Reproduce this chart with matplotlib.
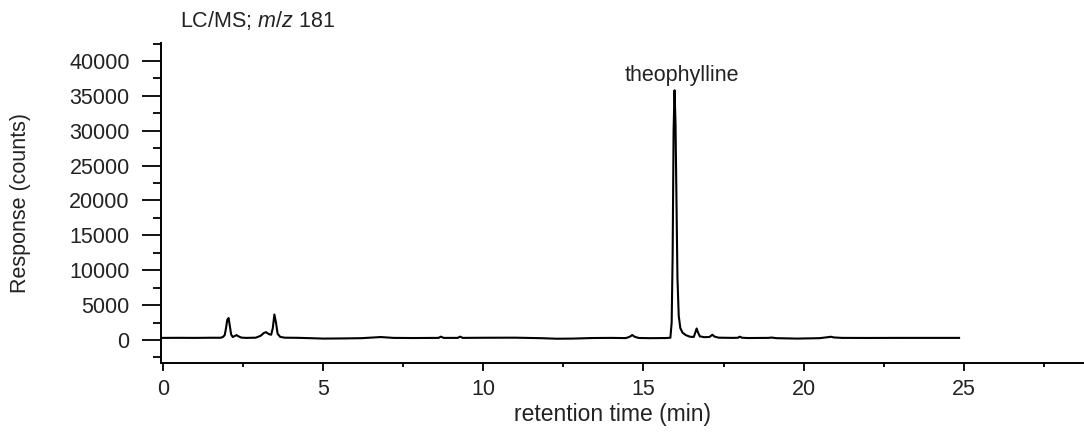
import matplotlib
matplotlib.use("Agg")
import matplotlib.pyplot as plt
from matplotlib.ticker import MultipleLocator

# ---- data ----
time_min = [
    0.00, 0.50, 1.00, 1.50, 1.80, 1.87, 1.93,
    1.97, 2.01, 2.05, 2.09, 2.13, 2.18, 2.24, 2.30, 2.36, 2.45,
    2.60, 2.90, 3.05, 3.15, 3.22, 3.30, 3.38, 3.43, 3.48, 3.53, 3.58, 3.66, 3.80,
    4.20, 4.60, 5.00, 5.60, 6.20, 6.80, 7.20, 7.80, 8.60, 8.68, 8.76, 9.20,
    9.28, 9.36, 10.00, 11.00, 11.80, 12.30, 12.80, 13.40, 14.00, 14.45, 14.58,
    14.65, 14.72, 14.85, 15.20, 15.70, 15.84, 15.88, 15.91, 15.94, 15.97,
    16.00, 16.03, 16.06, 16.10, 16.15, 16.22, 16.32, 16.45, 16.57, 16.62,
    16.66, 16.70, 16.76, 16.90, 17.06, 17.15, 17.22, 17.35, 17.80, 17.95,
    18.00, 18.08, 18.25, 18.90, 19.00, 19.15, 19.80, 20.50, 20.75, 20.85,
    20.95, 21.20, 22.00, 23.00, 24.00, 24.85,
]
response = [
    300, 310, 300, 320, 320, 420, 700,
    1700, 2900, 3150, 2000, 800, 420, 560, 700, 520, 340,
    300, 330, 600, 1000, 1120, 860, 750, 1700, 3650, 2500, 900, 450, 330,
    310, 260, 200, 220, 260, 420, 300, 280, 300, 480, 300, 300,
    480, 300, 320, 330, 260, 180, 200, 280, 300, 270, 480,
    720, 470, 290, 260, 280, 320, 2500, 12000, 30000, 35800,
    31000, 20000, 9000, 3500, 1700, 1050, 700, 470, 430, 1100,
    1650, 1100, 520, 400, 430, 750, 480, 330, 300, 320,
    470, 320, 280, 300, 350, 260, 200, 260, 400, 460,
    360, 300, 290, 300, 300, 300,
]

peak_label = "theophylline"
peak_time = 15.97
peak_label_y = 36470

x_ticks = [0, 5, 10, 15, 20, 25]
y_ticks = [0, 5000, 10000, 15000, 20000, 25000, 30000, 35000, 40000]

# ---- style ----
plt.rcParams["font.family"] = ["Liberation Sans", "DejaVu Sans"]
plt.rcParams["mathtext.fontset"] = "custom"
plt.rcParams["mathtext.rm"] = "Liberation Sans"
plt.rcParams["mathtext.it"] = "Liberation Sans:italic"
text_color = "#222222"
fs = 15.5

fig = plt.figure(figsize=(10.84, 4.34), dpi=100)
ax = fig.add_axes([0.1485, 0.1636, 0.8515, 0.7373])

ax.plot(time_min, response, color="black", lw=1.5, solid_joinstyle="round")

ax.set_xlim(-0.06, 28.75)
ax.set_ylim(-3300, 42580)

ax.set_xticks(x_ticks)
ax.set_yticks(y_ticks)
ax.xaxis.set_minor_locator(MultipleLocator(2.5))
ax.yaxis.set_minor_locator(MultipleLocator(2500))

for s in ["top", "right"]:
    ax.spines[s].set_visible(False)
for s in ["left", "bottom"]:
    ax.spines[s].set_linewidth(1.4)
    ax.spines[s].set_color("black")

ax.tick_params(axis="y", which="major", direction="out", length=13.5, width=1.3,
               labelsize=fs, labelcolor=text_color, pad=9)
ax.tick_params(axis="y", which="minor", direction="out", length=5.5, width=1.3)
ax.tick_params(axis="x", which="major", direction="out", length=5.5, width=1.3,
               labelsize=fs, labelcolor=text_color, pad=6)
ax.tick_params(axis="x", which="minor", direction="out", length=3, width=1.3)

ax.set_xlabel("retention time (min)", fontsize=16.5, color=text_color)
ax.xaxis.set_label_coords(0.4897, -0.125)
ax.set_ylabel("Response (counts)", fontsize=fs, color=text_color)
ax.yaxis.set_label_coords(-0.1408, 0.5)

fig.text(180 / 1084, 1 - 20 / 434, r"LC/MS; $m/z$ 181", fontsize=fs,
         color=text_color, ha="left", va="center")

ax.text(peak_time + 0.22, peak_label_y, peak_label, fontsize=fs, color=text_color,
        ha="center", va="bottom")

fig.savefig("out.png", dpi=100)
